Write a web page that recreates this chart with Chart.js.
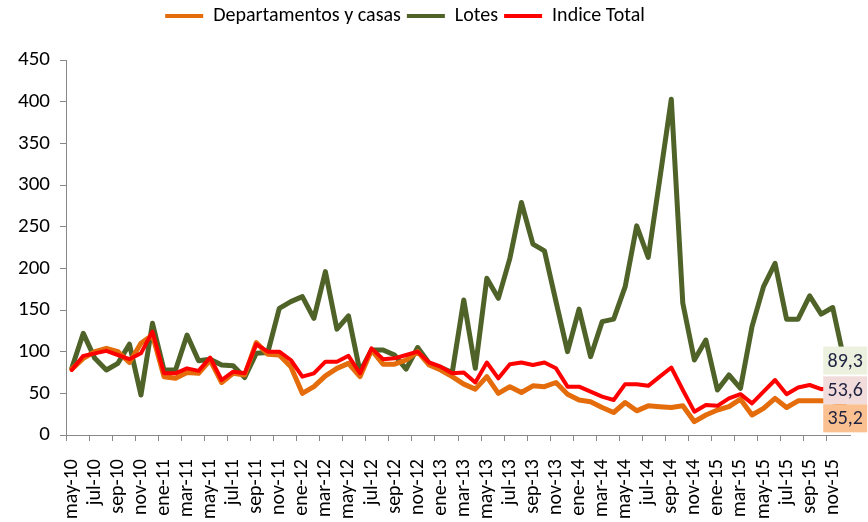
<!DOCTYPE html>
<html>
<head>
<meta charset="utf-8">
<script src="https://cdn.jsdelivr.net/npm/chart.js@4/dist/chart.umd.min.js"></script>
<style>
  html, body { margin: 0; padding: 0; background: #fff; }
  #wrap { width: 868px; height: 522px; }
</style>
</head>
<body>
<div id="wrap"><canvas id="indexChart" width="868" height="522"></canvas></div>
<script>
// Monthly categories, may-10 .. dic-15 (only every other one gets a label)
const months = [
  'may-10', 'jun-10', 'jul-10', 'ago-10', 'sep-10', 'oct-10', 'nov-10', 'dic-10',
  'ene-11', 'feb-11', 'mar-11', 'abr-11', 'may-11', 'jun-11', 'jul-11', 'ago-11', 'sep-11', 'oct-11', 'nov-11', 'dic-11',
  'ene-12', 'feb-12', 'mar-12', 'abr-12', 'may-12', 'jun-12', 'jul-12', 'ago-12', 'sep-12', 'oct-12', 'nov-12', 'dic-12',
  'ene-13', 'feb-13', 'mar-13', 'abr-13', 'may-13', 'jun-13', 'jul-13', 'ago-13', 'sep-13', 'oct-13', 'nov-13', 'dic-13',
  'ene-14', 'feb-14', 'mar-14', 'abr-14', 'may-14', 'jun-14', 'jul-14', 'ago-14', 'sep-14', 'oct-14', 'nov-14', 'dic-14',
  'ene-15', 'feb-15', 'mar-15', 'abr-15', 'may-15', 'jun-15', 'jul-15', 'ago-15', 'sep-15', 'oct-15', 'nov-15', 'dic-15'
];

// Series values
const departamentos = [
  79, 92, 100, 104, 100, 87, 110, 120,
  70, 68, 75, 74, 90, 63, 74, 72, 111, 97, 96, 82,
  50, 58, 71, 80, 86, 70, 102, 85, 85, 90, 100, 84,
  78, 70, 61, 55, 70, 50, 58, 51, 59, 58, 63, 49,
  42, 40, 33, 27, 39, 29, 35, 34, 33, 35, 16, 24,
  30, 34, 43, 24, 32, 44, 33, 41, 41, 41, 40, 35.2
];
const lotes = [
  80, 122, 92, 78, 86, 109, 48, 134,
  78, 78, 120, 89, 91, 84, 83, 69, 98, 99, 152, 160,
  166, 140, 196, 127, 143, 76, 102, 102, 96, 79, 105, 86,
  81, 75, 162, 80, 188, 164, 212, 279, 229, 221, 160, 100,
  151, 94, 136, 139, 178, 251, 213, 307, 403, 158, 90, 114,
  54, 72, 56, 130, 178, 206, 139, 139, 167, 145, 153, 89.3
];
const indiceTotal = [
  78, 95, 98, 101, 96, 91, 98, 124,
  74, 74, 80, 77, 93, 66, 76, 74, 109, 100, 100, 90,
  70, 74, 88, 88, 95, 74, 104, 91, 92, 96, 100, 87,
  82, 74, 75, 63, 87, 68, 85, 87, 84, 87, 80, 58,
  58, 52, 46, 42, 61, 61, 59, 70, 81, 54, 28, 36,
  35, 44, 49, 38, 52, 66, 49, 57, 60, 55, 57, 53.6
];

// Y axis ticks
const yTicks = [0, 50, 100, 150, 200, 250, 300, 350, 400, 450];

const FONT = "Carlito, Lato, 'Liberation Sans', sans-serif";

// Boxed value labels at the last point of each series (like the Excel data labels)
const lastValueLabels = {
  id: 'lastValueLabels',
  afterDatasetsDraw(chart) {
    const ctx = chart.ctx;
    const boxW = 44;
    const boxH = 28;
    const fills = ['#FAC090', '#EBF1DE', '#F2DCDB'];
    const items = chart.data.datasets.map((ds, i) => {
      const meta = chart.getDatasetMeta(i);
      const pt = meta.data[meta.data.length - 1];
      return { x: pt.x, y: pt.y, value: ds.data[ds.data.length - 1], fill: fills[i] };
    });
    // stack from top to bottom, no overlap
    items.sort((a, b) => a.y - b.y);
    let prevBottom = -Infinity;
    ctx.save();
    ctx.font = '20px ' + FONT;
    ctx.textAlign = 'center';
    ctx.textBaseline = 'middle';
    items.forEach(it => {
      let top = it.y - boxH / 2;
      if (top < prevBottom) top = prevBottom;
      prevBottom = top + boxH;
      ctx.fillStyle = it.fill;
      ctx.fillRect(it.x - 21, top, boxW, boxH);
      ctx.fillStyle = '#1F2240';
      ctx.fillText(it.value.toFixed(1).replace('.', ','), it.x + 1, top + boxH / 2 + 1);
    });
    ctx.restore();
  }
};

// Force the legend band height so the plot starts where the reference does,
// and nudge the legend a bit to the left like in the original
const legendBand = {
  id: 'legendBand',
  beforeInit(chart) {
    const origFit = chart.legend.fit;
    chart.legend.fit = function () {
      origFit.call(this);
      this.height = 60;
    };
  },
  afterLayout(chart) {
    chart.legend.left -= 20;
    chart.legend.right -= 20;
  }
};

const ctx = document.getElementById('indexChart').getContext('2d');
const indexChart = new Chart(ctx, {
  type: 'line',
  data: {
    labels: months,
    datasets: [
      {
        label: 'Departamentos y casas',
        data: departamentos,
        borderColor: '#E46C0A',
        backgroundColor: '#E46C0A',
        borderWidth: 5,
        order: 1
      },
      {
        label: 'Lotes',
        data: lotes,
        borderColor: '#4F6228',
        backgroundColor: '#4F6228',
        borderWidth: 5,
        order: 2
      },
      {
        label: 'Indice Total',
        data: indiceTotal,
        borderColor: '#FF0000',
        backgroundColor: '#FF0000',
        borderWidth: 4,
        order: 0
      }
    ]
  },
  options: {
    responsive: false,
    animation: false,
    layout: { padding: { left: 0, right: 18, top: 0, bottom: 0 } },
    elements: {
      line: { tension: 0, fill: false, borderJoinStyle: 'round', borderCapStyle: 'round' },
      point: { radius: 0, hoverRadius: 0 }
    },
    plugins: {
      tooltip: { enabled: false },
      legend: {
        display: true,
        position: 'top',
        labels: {
          usePointStyle: true,
          pointStyle: 'line',
          pointStyleWidth: 38,
          padding: 6,
          color: '#000',
          font: { family: FONT, size: 20 },
          sort: (a, b) => a.datasetIndex - b.datasetIndex,
          generateLabels(chart) {
            return chart.data.datasets.map((ds, i) => ({
              text: ds.label,
              strokeStyle: ds.borderColor,
              fillStyle: ds.borderColor,
              lineWidth: 4,
              pointStyle: 'line',
              datasetIndex: i,
              hidden: false,
              fontColor: '#000'
            }));
          }
        }
      }
    },
    scales: {
      x: {
        type: 'category',
        offset: true,
        afterFit: scale => {
          scale.height = 87;
          // the rotated labels must not eat into the plot width
          scale.paddingLeft = 0;
          scale.paddingRight = 0;
        },
        border: { display: true, color: '#888', width: 1 },
        grid: {
          offset: true,
          drawOnChartArea: false,
          drawTicks: true,
          tickLength: 6,
          color: c => (c.index % 2 === 0 ? '#888' : 'rgba(0,0,0,0)')
        },
        ticks: {
          autoSkip: false,
          minRotation: 90,
          maxRotation: 90,
          padding: 18,
          color: '#000',
          font: { family: FONT, size: 20 },
          callback: (val, i) => (i % 2 === 0 ? months[i] : '')
        }
      },
      y: {
        min: 0,
        max: 450,
        afterFit: scale => { scale.width = 66; },
        afterBuildTicks: scale => { scale.ticks = yTicks.map(v => ({ value: v })); },
        border: { display: true, color: '#888', width: 1 },
        grid: {
          drawOnChartArea: false,
          drawTicks: true,
          tickLength: 6,
          color: '#888'
        },
        ticks: {
          padding: 10,
          color: '#000',
          font: { family: FONT, size: 21 }
        }
      }
    }
  },
  plugins: [legendBand, lastValueLabels]
});
</script>
</body>
</html>
